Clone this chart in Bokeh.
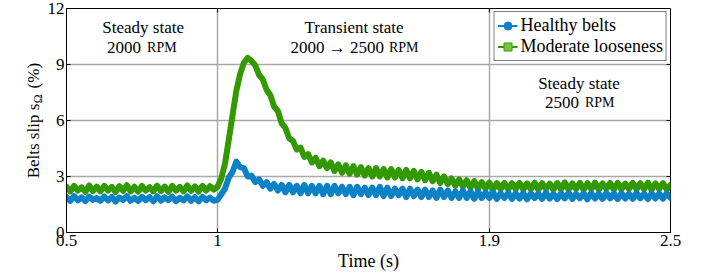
import math
import numpy as np
from bokeh.plotting import figure
from bokeh.layouts import row
from bokeh.models import (Label, Legend, LegendItem, FixedTicker, Range1d,
                          NumeralTickFormatter)
from bokeh.embed import file_html
from bokeh.resources import INLINE

# ---------------- data ----------------
time_s = np.linspace(0.5, 2.5, 161)

healthy = [
    1.9, 1.7, 1.95, 1.72, 1.88, 1.68, 1.92, 1.75, 1.85, 1.7,
    1.93, 1.72, 1.9, 1.66, 1.87, 1.74, 1.95, 1.7, 1.86, 1.69,
    1.91, 1.73, 1.89, 1.67, 1.94, 1.71, 1.88, 1.74, 1.92, 1.68,
    1.86, 1.72, 1.93, 1.7, 1.89, 1.67, 1.91, 1.73, 1.87, 1.7,
    1.75, 2.05, 2.35, 2.95, 3.25, 3.8, 3.5, 3.45, 3.0, 3.05,
    2.7, 2.85, 2.5, 2.7, 2.35, 2.6, 2.25, 2.55, 2.15, 2.55,
    2.15, 2.5, 2.1, 2.55, 2.1, 2.5, 2.1, 2.5, 2.05, 2.5,
    2.05, 2.5, 2.1, 2.45, 2.05, 2.45, 2.0, 2.45, 2.05, 2.4,
    2.0, 2.4, 2.0, 2.45, 1.95, 2.4, 1.95, 2.35, 2.0, 2.35,
    1.9, 2.35, 1.95, 2.3, 1.9, 2.3, 1.9, 2.25, 1.85, 2.3,
    1.9, 2.25, 1.85, 2.2, 1.85, 2.25, 1.85, 2.2, 1.8, 2.2,
    1.85, 2.15, 1.85, 2.15, 1.8, 2.1, 1.85, 2.12, 1.8, 2.1,
    1.82, 2.12, 1.78, 2.1, 1.84, 2.08, 1.8, 2.13, 1.82, 2.06,
    1.79, 2.1, 1.83, 2.12, 1.8, 2.07, 1.84, 2.1, 1.78, 2.11,
    1.82, 2.08, 1.8, 2.12, 1.83, 2.09, 1.79, 2.1, 1.82, 2.07,
    1.8, 2.12, 1.83, 2.08, 1.79, 2.1, 1.82, 2.09, 1.8, 2.11,
    1.85,
]

moderate = [
    2.45, 2.2, 2.5, 2.25, 2.42, 2.18, 2.52, 2.22, 2.46, 2.2,
    2.5, 2.24, 2.44, 2.17, 2.48, 2.23, 2.53, 2.2, 2.45, 2.19,
    2.49, 2.25, 2.43, 2.2, 2.51, 2.22, 2.46, 2.18, 2.5, 2.24,
    2.44, 2.2, 2.52, 2.23, 2.47, 2.19, 2.5, 2.25, 2.48, 2.3,
    2.45, 2.9, 3.7, 5.0, 6.3, 7.6, 8.5, 9.1, 9.35, 9.2,
    8.95, 8.45, 8.2, 7.65, 7.35, 6.75, 6.5, 5.85, 5.6, 5.05,
    4.9, 4.45, 4.55, 4.05, 4.2, 3.75, 4.0, 3.55, 3.85, 3.45,
    3.75, 3.3, 3.65, 3.2, 3.6, 3.15, 3.55, 3.1, 3.5, 3.05,
    3.45, 3.0, 3.45, 3.0, 3.4, 2.95, 3.4, 2.95, 3.35, 2.9,
    3.35, 2.9, 3.3, 2.85, 3.25, 2.8, 3.2, 2.75, 3.1, 2.65,
    3.0, 2.6, 2.9, 2.5, 2.85, 2.45, 2.8, 2.4, 2.75, 2.35,
    2.7, 2.35, 2.68, 2.3, 2.65, 2.32, 2.66, 2.3, 2.64, 2.33,
    2.66, 2.3, 2.63, 2.32, 2.67, 2.29, 2.64, 2.33, 2.62, 2.3,
    2.65, 2.31, 2.68, 2.3, 2.63, 2.33, 2.66, 2.29, 2.64, 2.32,
    2.67, 2.3, 2.63, 2.34, 2.65, 2.29, 2.66, 2.31, 2.62, 2.33,
    2.66, 2.3, 2.64, 2.32, 2.67, 2.29, 2.63, 2.33, 2.65, 2.3,
    2.55,
]

series_labels = ["Healthy belts", "Moderate looseness"]
x_ticks = [0.5, 1, 1.9, 2.5]
y_ticks = [0, 3, 6, 9, 12]
x_grid = [1, 1.9]
y_grid = [3, 6, 9]

BLUE = "#0B82C6"
GREEN = "#339900"
FONT = "Liberation Serif"

H = 276
TOP, BOTTOM = 8, 44
LEFT, FRAME_W, RIGHT = 19, 607, 36
SIDE_W = 44
X0, X1, Y0, Y1 = 0.5, 2.5, 0, 12

p = figure(width=LEFT + FRAME_W + RIGHT, height=H,
           x_range=Range1d(X0, X1), y_range=Range1d(Y0, Y1),
           output_backend="svg", toolbar_location=None,
           min_border_left=LEFT, min_border_right=RIGHT, min_border_top=TOP,
           min_border_bottom=BOTTOM)

p.background_fill_color = "white"
p.border_fill_color = "white"
p.outline_line_color = "black"
p.outline_line_width = 1

# axes
for ax in (p.xaxis[0], p.yaxis[0]):
    ax.major_label_text_font = FONT
    ax.major_label_text_font_size = "17px"
    ax.major_label_text_color = "black"
    ax.axis_line_color = "black"
    ax.major_tick_line_color = "black"
    ax.major_tick_in = 4
    ax.major_tick_out = 0
    ax.minor_tick_line_color = None
p.xaxis.ticker = FixedTicker(ticks=x_ticks)
p.xaxis.formatter = NumeralTickFormatter(format="0.[0]")
p.xaxis.major_label_standoff = 2
p.xaxis.axis_label = "Time (s)"
p.xaxis.axis_label_text_font = FONT
p.xaxis.axis_label_text_font_size = "18px"
p.xaxis.axis_label_text_font_style = "normal"
p.xaxis.axis_label_text_color = "black"
p.xaxis.axis_label_standoff = 2
p.yaxis.ticker = FixedTicker(ticks=y_ticks)
p.yaxis.formatter = NumeralTickFormatter(format="0")
p.yaxis.major_label_standoff = 2

# grid
p.xgrid.ticker = FixedTicker(ticks=x_grid)
p.ygrid.ticker = FixedTicker(ticks=y_grid)
for g in (p.xgrid[0], p.ygrid[0]):
    g.grid_line_color = "#a9a9a9"
    g.grid_line_width = 1.5

# inward tick marks on the top and right edges of the box (from the tick lists)
frame_h = H - TOP - BOTTOM
ty = 4 * (Y1 - Y0) / frame_h
tx = 4 * (X1 - X0) / FRAME_W
p.segment(x0=x_ticks, y0=[Y1] * len(x_ticks), x1=x_ticks, y1=[Y1 - ty] * len(x_ticks),
          line_color="black", line_width=1)
p.segment(x0=[X1] * len(y_ticks), y0=y_ticks, x1=[X1 - tx] * len(y_ticks), y1=y_ticks,
          line_color="black", line_width=1)

# data
p.line(time_s, moderate, line_color=GREEN, line_width=6, line_join="round", line_cap="round")
p.line(time_s, healthy, line_color=BLUE, line_width=6, line_join="round", line_cap="round")

# legend (off-range renderers used only for the legend glyphs)
off_x, off_y = [-10, -9], [-10, -10]
lb = p.line(off_x, off_y, line_color=BLUE, line_width=2)
sb = p.scatter(off_x, off_y, marker="circle", size=5, fill_color=BLUE, line_color=BLUE)
lg = p.line(off_x, off_y, line_color=GREEN, line_width=2)
sg = p.scatter(off_x, off_y, marker="square", size=5, fill_color="#7cc04a", line_color=GREEN)
legend = Legend(items=[LegendItem(label=series_labels[0], renderers=[lb, sb]),
                       LegendItem(label=series_labels[1], renderers=[lg, sg])],
                location="top_right", margin=3, padding=3, spacing=0,
                glyph_width=20, glyph_height=21, label_height=21, label_standoff=3,
                label_text_font=FONT, label_text_font_size="18px", label_text_color="black",
                border_line_color="black", border_line_width=1.5,
                background_fill_color="white", background_fill_alpha=1)
p.add_layout(legend)

def lab(fig, x, y, text, size="17px", align="center", baseline="alphabetic", angle=0.0):
    fig.add_layout(Label(x=x, y=y, text=text, text_font=FONT, text_font_size=size,
                         text_align=align, text_baseline=baseline, text_color="black",
                         angle=angle))

# region annotations
lab(p, 0.7537, 11.0, "Steady state")
lab(p, 0.7471, 9.9, "2000", align="right")
lab(p, 0.7669, 9.9, "RPM", size="14px", align="left")
lab(p, 1.4522, 11.0, "Transient state")
lab(p, 1.5511, 9.9, "2000 \u2192 2500", align="right")
lab(p, 1.5675, 9.9, "RPM", size="14px", align="left")
lab(p, 2.1969, 8.0, "Steady state")
lab(p, 2.1969, 6.94, "2500", align="right")
lab(p, 2.2166, 6.94, "RPM", size="14px", align="left")

# y-axis title with a subscript, drawn in a narrow side panel that shares the y range
side = figure(width=SIDE_W, height=H, x_range=Range1d(0, SIDE_W), y_range=p.y_range,
              output_backend="svg", toolbar_location=None, min_border=0,
              min_border_top=TOP, min_border_bottom=BOTTOM,
              x_axis_location=None, y_axis_location=None)
side.outline_line_color = None
side.xgrid.visible = False
side.ygrid.visible = False
lab(side, 32.5, 2.9, "Belts slip s", align="left", angle=math.pi / 2)
lab(side, 37, 6.93, "\u03a9", size="12px", align="left", angle=math.pi / 2)
lab(side, 32.5, 7.72, "(%)", align="left", angle=math.pi / 2)

layout = row(side, p, spacing=0)
open("out.html", "w").write(file_html(layout, INLINE))
